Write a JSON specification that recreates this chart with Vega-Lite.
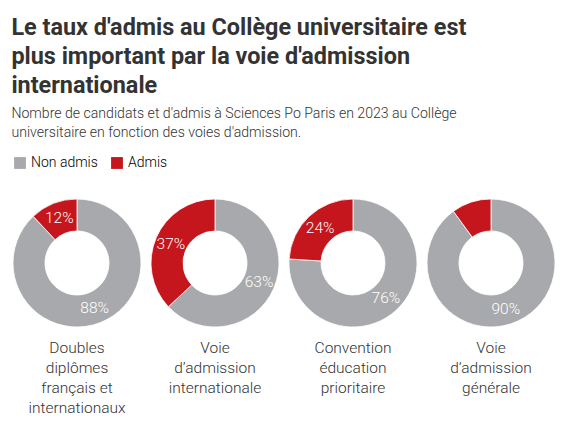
{
  "$schema": "https://vega.github.io/schema/vega-lite/v6.json",
  "background": "white",
  "padding": {"left": 11, "top": 15, "right": 5, "bottom": 5},
  "title": {
    "text": ["Le taux d'admis au Collège universitaire est", "plus important par la voie d'admission", "internationale"],
    "subtitle": ["Nombre de candidats et d'admis à Sciences Po Paris en 2023 au Collège", "universitaire en fonction des voies d'admission."],
    "anchor": "start",
    "font": "Roboto",
    "fontSize": 23.4,
    "fontWeight": "bold",
    "color": "#333333",
    "lineHeight": 29,
    "subtitleFont": "Roboto",
    "subtitleFontSize": 14.1,
    "subtitleFontWeight": 300,
    "subtitleColor": "#333333",
    "subtitleLineHeight": 19,
    "subtitlePadding": 9,
    "offset": 15
  },
  "data": {
    "values": [
      {"voie": "Doubles diplômes français et internationaux", "statut": "Non admis", "pct": 0.88},
      {"voie": "Doubles diplômes français et internationaux", "statut": "Admis", "pct": 0.12},
      {"voie": "Voie d'admission internationale", "statut": "Non admis", "pct": 0.63},
      {"voie": "Voie d'admission internationale", "statut": "Admis", "pct": 0.37},
      {"voie": "Convention éducation prioritaire", "statut": "Non admis", "pct": 0.76},
      {"voie": "Convention éducation prioritaire", "statut": "Admis", "pct": 0.24},
      {"voie": "Voie d'admission générale", "statut": "Non admis", "pct": 0.90},
      {"voie": "Voie d'admission générale", "statut": "Admis", "pct": 0.10}
    ]
  },
  "facet": {
    "column": {
      "field": "voie",
      "type": "nominal",
      "sort": ["Doubles diplômes français et internationaux", "Voie d'admission internationale", "Convention éducation prioritaire", "Voie d'admission générale"],
      "header": {
        "title": null,
        "labelOrient": "bottom",
        "labelExpr": "datum.value == 'Doubles diplômes français et internationaux' ? ['Doubles', 'diplômes', 'français et', 'internationaux'] : datum.value == \"Voie d'admission internationale\" ? ['Voie', 'd’admission', 'internationale'] : datum.value == 'Convention éducation prioritaire' ? ['Convention', 'éducation', 'prioritaire'] : ['Voie', 'd’admission', 'générale']",
        "labelFont": "Roboto",
        "labelFontSize": 15.5,
        "labelFontWeight": 300,
        "labelColor": "#333333",
        "labelLineHeight": 20,
        "labelPadding": 12,
        "labelBaseline": "top"
      }
    }
  },
  "spacing": 6,
  "spec": {
    "width": 128,
    "height": 128,
    "view": {"stroke": null},
    "encoding": {
      "theta": {"field": "pct", "type": "quantitative", "stack": true},
      "order": {"field": "statut", "sort": "descending"}
    },
    "layer": [
      {
        "mark": {"type": "arc", "innerRadius": 32, "outerRadius": 64, "stroke": "white", "strokeWidth": 0.8},
        "encoding": {
          "color": {
            "field": "statut",
            "type": "nominal",
            "scale": {"domain": ["Non admis", "Admis"], "range": ["#a8a9ac", "#c4161c"]},
            "legend": {
              "title": null,
              "orient": "top",
              "direction": "horizontal",
              "padding": 0,
              "symbolType": "square",
              "symbolSize": 140,
              "symbolStrokeWidth": 0,
              "symbolOpacity": 1,
              "labelFont": "Roboto",
              "labelFontSize": 14,
              "labelFontWeight": 300,
              "columnPadding": 12,
              "labelOffset": 4,
              "offset": 27,
              "encode": {
                "labels": {"update": {"fill": {"signal": "datum.value == 'Admis' ? '#c4161c' : '#8a8a8d'"}}}
              }
            }
          }
        }
      },
      {
        "transform": [{"filter": "datum.pct >= 0.12"}],
        "mark": {"type": "text", "radius": 48, "color": "white", "font": "Roboto", "fontSize": 15.5, "fontWeight": 300},
        "encoding": {
          "text": {"field": "pct", "type": "quantitative", "format": ".0%"}
        }
      }
    ]
  }
}
